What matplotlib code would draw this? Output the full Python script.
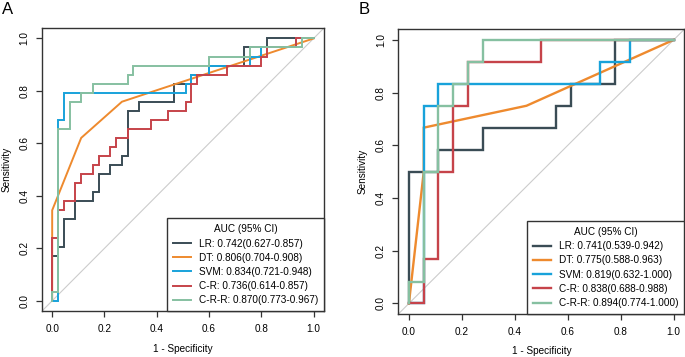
import matplotlib
matplotlib.use("Agg")
import matplotlib.pyplot as plt

plt.rcParams["font.family"] = ["Liberation Sans", "DejaVu Sans"]

models = ["LR", "DT", "SVM", "C-R", "C-R-R"]
colors = ["#3a4c55", "#ee8a2e", "#18a2da", "#c6434a", "#86c0a1"]

# panel A: ROC vertices (1 - specificity, sensitivity)
a_fpr = {
    "LR": [0, 0, 0.022, 0.022, 0.044, 0.044, 0.089, 0.089, 0.156, 0.156, 0.178, 0.178, 0.222, 0.222,
           0.267, 0.267, 0.289, 0.289, 0.333, 0.333, 0.467, 0.467, 0.533, 0.533, 0.6, 0.6, 0.733, 0.733,
           0.822, 0.822, 1.0],
    "DT": [0, 0, 0.111, 0.267, 1.0],
    "SVM": [0, 0.022, 0.022, 0.044, 0.044, 0.511, 0.511, 0.533, 0.533, 0.6, 0.6, 0.756, 0.756, 0.8, 0.8,
            0.933, 0.933, 1.0],
    "C-R": [0, 0, 0.022, 0.022, 0.044, 0.044, 0.089, 0.089, 0.111, 0.111, 0.156, 0.156, 0.178, 0.178,
            0.222, 0.222, 0.244, 0.244, 0.289, 0.289, 0.378, 0.378, 0.444, 0.444, 0.511, 0.511, 0.533,
            0.533, 0.556, 0.556, 0.667, 0.667, 0.8, 0.8, 0.822, 0.822, 0.933, 0.933, 1.0],
    "C-R-R": [0, 0, 0.022, 0.022, 0.067, 0.067, 0.111, 0.111, 0.156, 0.156, 0.289, 0.289, 0.311, 0.311,
              0.6, 0.6, 0.756, 0.756, 0.956, 0.956, 1.0],
}
a_tpr = {
    "LR": [0, 0.172, 0.172, 0.207, 0.207, 0.31, 0.31, 0.379, 0.379, 0.414, 0.414, 0.483, 0.483, 0.517,
           0.517, 0.552, 0.552, 0.724, 0.724, 0.759, 0.759, 0.828, 0.828, 0.862, 0.862, 0.897, 0.897,
           0.966, 0.966, 1.0, 1.0],
    "DT": [0, 0.345, 0.621, 0.759, 1.0],
    "SVM": [0, 0, 0.69, 0.69, 0.793, 0.793, 0.828, 0.828, 0.862, 0.862, 0.897, 0.897, 0.931, 0.931,
            0.966, 0.966, 1.0, 1.0],
    "C-R": [0, 0.241, 0.241, 0.345, 0.345, 0.379, 0.379, 0.448, 0.448, 0.483, 0.483, 0.517, 0.517,
            0.552, 0.552, 0.586, 0.586, 0.621, 0.621, 0.655, 0.655, 0.69, 0.69, 0.724, 0.724, 0.759,
            0.759, 0.828, 0.828, 0.862, 0.862, 0.897, 0.897, 0.931, 0.931, 0.966, 0.966, 1.0, 1.0],
    "C-R-R": [0, 0.034, 0.034, 0.655, 0.655, 0.759, 0.759, 0.793, 0.793, 0.828, 0.828, 0.862, 0.862,
              0.897, 0.897, 0.931, 0.931, 0.966, 0.966, 1.0, 1.0],
}
a_labels = ["LR: 0.742(0.627-0.857)", "DT: 0.806(0.704-0.908)", "SVM: 0.834(0.721-0.948)",
            "C-R: 0.736(0.614-0.857)", "C-R-R: 0.870(0.773-0.967)"]

# panel B
b_fpr = {
    "LR": [0, 0, 0.111, 0.111, 0.278, 0.278, 0.556, 0.556, 0.611, 0.611, 0.778, 0.778, 1.0],
    "DT": [0, 0.056, 0.056, 0.444, 1.0],
    "SVM": [0, 0.056, 0.056, 0.111, 0.111, 0.722, 0.722, 0.833, 0.833, 1.0],
    "C-R": [0, 0.056, 0.056, 0.111, 0.111, 0.167, 0.167, 0.222, 0.222, 0.5, 0.5, 1.0],
    "C-R-R": [0, 0, 0.056, 0.056, 0.111, 0.111, 0.167, 0.167, 0.222, 0.222, 0.278, 0.278, 1.0],
}
b_tpr = {
    "LR": [0, 0.5, 0.5, 0.583, 0.583, 0.667, 0.667, 0.75, 0.75, 0.833, 0.833, 1.0, 1.0],
    "DT": [0, 0.5, 0.667, 0.75, 1.0],
    "SVM": [0, 0, 0.75, 0.75, 0.833, 0.833, 0.917, 0.917, 1.0, 1.0],
    "C-R": [0, 0, 0.167, 0.167, 0.5, 0.5, 0.75, 0.75, 0.917, 0.917, 1.0, 1.0],
    "C-R-R": [0, 0.083, 0.083, 0.5, 0.5, 0.75, 0.75, 0.833, 0.833, 0.917, 0.917, 1.0, 1.0],
}
b_labels = ["LR: 0.741(0.539-0.942)", "DT: 0.775(0.588-0.963)", "SVM: 0.819(0.632-1.000)",
            "C-R: 0.838(0.688-0.988)", "C-R-R: 0.894(0.774-1.000)"]

ticks = [0, 0.2, 0.4, 0.6, 0.8, 1.0]
fs = 7.2
frame_col = "#333333"

fig = plt.figure(figsize=(6.85, 3.57), dpi=100)

panels = [
    ("A", [0.0609, 0.128, 0.4121, 0.7936], a_fpr, a_tpr, a_labels, 1.4, 0.0025),
    ("B", [0.5815, 0.1204, 0.4175, 0.7975], b_fpr, b_tpr, b_labels, 1.7, 0.524),
]

for name, rect, fpr, tpr, labels, lw, lx in panels:
    ax = fig.add_axes(rect)
    ax.axline((0, 0), (1, 1), color="#cccccc", lw=0.8, zorder=1)
    for i, m in enumerate(models):
        ax.plot(fpr[m], tpr[m], color=colors[i], lw=lw, label=labels[i], zorder=2 + i,
                solid_joinstyle="miter")
    ax.set_xlim(-0.04, 1.04)
    ax.set_ylim(-0.04, 1.04)
    ax.set_xticks(ticks)
    ax.set_yticks(ticks)
    ax.set_xticklabels([f"{t:.1f}" for t in ticks], fontsize=fs)
    ax.set_yticklabels([f"{t:.1f}" for t in ticks], fontsize=fs, rotation=90, va="center")
    ax.tick_params(direction="out", length=4, width=0.9, color=frame_col, pad=5)
    for s in ax.spines.values():
        s.set_color(frame_col)
        s.set_linewidth(1.0)
    ax.set_xlabel("1 - Specificity", fontsize=fs, labelpad=7)
    ax.set_ylabel("Sensitivity", fontsize=fs, labelpad=5.8)

    leg = ax.legend(loc="lower right", bbox_to_anchor=(1, 0), borderaxespad=0, fontsize=fs,
                    title="AUC (95% CI)", title_fontsize=fs, fancybox=False, framealpha=1,
                    edgecolor=frame_col, handlelength=1.8, handletextpad=0.8, labelspacing=0.42,
                    borderpad=0.6)
    leg.get_frame().set_linewidth(1.0)
    for h in leg.get_lines():
        h.set_linewidth(lw)

    fig.text(lx, 0.995, name, fontsize=12, va="top", ha="left")

plt.savefig("out.png", dpi=100)
